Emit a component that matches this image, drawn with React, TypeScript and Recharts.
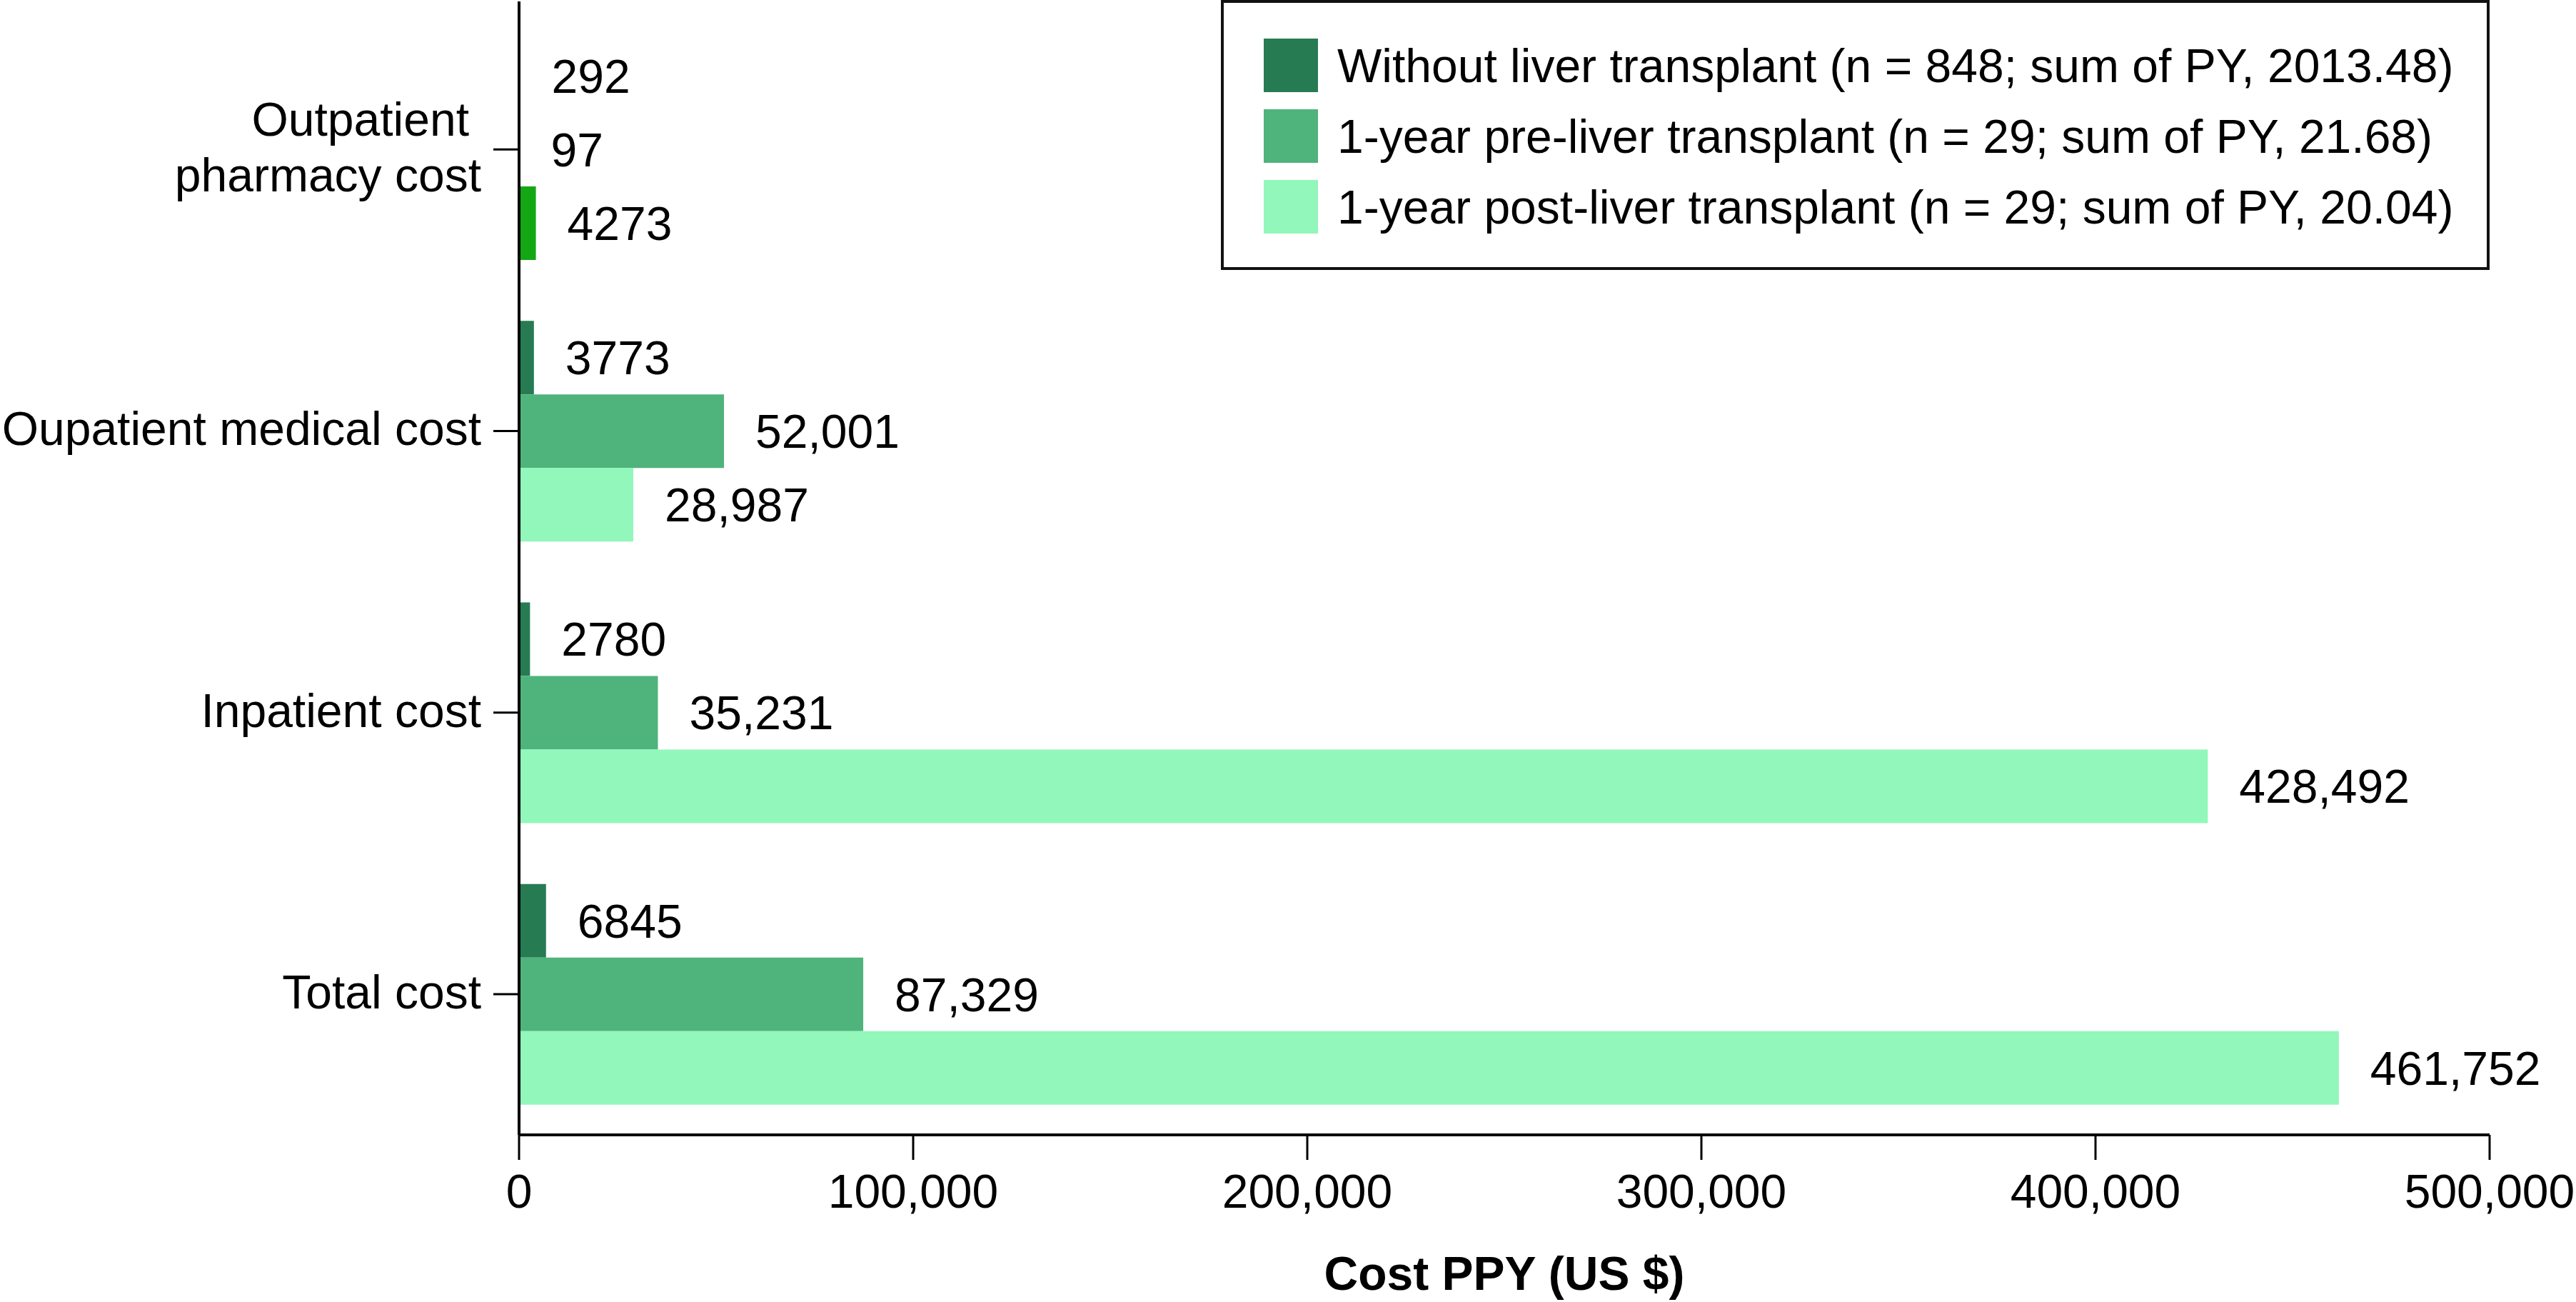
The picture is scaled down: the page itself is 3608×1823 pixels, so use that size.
import React from 'react';
import { BarChart, Bar, XAxis, YAxis, Legend, LabelList, Cell } from 'recharts';

// categories on the y axis ("\n" = line break in the tick label)
const categories = ['Outpatient\npharmacy cost', 'Oupatient medical cost', 'Inpatient cost', 'Total cost'];

// cost per patient-year, US $
const withoutTransplant = [292, 3773, 2780, 6845];
const preTransplant = [97, 52001, 35231, 87329];
const postTransplant = [4273, 28987, 428492, 461752];

const seriesNames = [
  'Without liver transplant (n = 848; sum of PY, 2013.48)',
  '1-year pre-liver transplant (n = 29; sum of PY, 21.68)',
  '1-year post-liver transplant (n = 29; sum of PY, 20.04)',
];
const seriesKeys = ['without', 'pre', 'post'];
const seriesColors = ['#277B53', '#4FB37C', '#91F7BA'];
const pharmacyPostColor = '#13A813';

const xTicks = [0, 100000, 200000, 300000, 400000, 500000];

const FONT = '"Liberation Sans", Arial, Helvetica, sans-serif';

const data = categories.map((category, i) => ({
  category,
  without: withoutTransplant[i],
  pre: preTransplant[i],
  post: postTransplant[i],
}));

const formatValue = (v: number) => (v >= 10000 ? v.toLocaleString('en-US') : String(v));

function CategoryTick(props: any) {
  const { x, y, payload } = props;
  const lines: string[] = String(payload.value).split('\n');
  const lineHeight = 78;
  const first = y + 20 - ((lines.length - 1) * lineHeight) / 2;
  return (
    <text textAnchor="end" fontSize={66} fontFamily={FONT} fill="#000">
      {lines.map((line, i) => (
        <tspan key={i} x={lines.length > 1 && i === 0 ? x - 17 : x} y={first + i * lineHeight}>
          {line}
        </tspan>
      ))}
    </text>
  );
}

const renderLegend = () => (
  <div
    style={{
      boxSizing: 'border-box',
      width: 1777,
      height: 378,
      border: '4px solid #111',
      background: '#fff',
      paddingTop: 50,
      paddingLeft: 56,
    }}
  >
    {seriesNames.map((name, i) => (
      <div key={name} style={{ display: 'flex', alignItems: 'center', height: 75, marginBottom: 24 }}>
        <span style={{ width: 76, height: 75, background: seriesColors[i], display: 'inline-block', marginRight: 27, flex: 'none' }} />
        <span style={{ fontSize: 66, fontFamily: FONT, color: '#000', lineHeight: 1, whiteSpace: 'nowrap' }}>{name}</span>
      </div>
    ))}
  </div>
);

export default function App() {
  return (
    <div style={{ position: 'absolute', left: 0, top: 0, background: '#fff' }}>
      <BarChart
        width={3608}
        height={1823}
        data={data}
        layout="vertical"
        margin={{ top: 2, right: 121, bottom: 0, left: 0 }}
        barCategoryGap={43}
        barGap={0}
      >
        <XAxis
          type="number"
          domain={[0, 500000]}
          ticks={xTicks}
          interval={0}
          tickFormatter={(v: number) => v.toLocaleString('en-US')}
          height={234}
          tickSize={35}
          tickMargin={20}
          axisLine={{ stroke: '#000', strokeWidth: 4 }}
          tickLine={{ stroke: '#000', strokeWidth: 3 }}
          tick={{ fontSize: 66, fontFamily: FONT, fill: '#000' }}
          label={{
            value: 'Cost PPY (US $)',
            position: 'insideBottom',
            offset: 17,
            style: { fontSize: 66, fontFamily: FONT, fontWeight: 'bold', fill: '#000' },
          }}
        />
        <YAxis
          type="category"
          dataKey="category"
          width={727}
          padding={{ top: 10, bottom: 0 }}
          interval={0}
          tickSize={36}
          tickMargin={17}
          axisLine={{ stroke: '#000', strokeWidth: 4 }}
          tickLine={{ stroke: '#000', strokeWidth: 3 }}
          tick={<CategoryTick />}
        />
        <Legend
          layout="vertical"
          verticalAlign="middle"
          align="center"
          content={renderLegend}
          wrapperStyle={{ left: 1710, top: 0, width: 1777, height: 378 }}
        />
        {seriesKeys.map((key, s) => (
          <Bar key={key} dataKey={key} name={seriesNames[s]} fill={seriesColors[s]} isAnimationActive={false}>
            {key === 'post' &&
              data.map((d, i) => <Cell key={i} fill={i === 0 ? pharmacyPostColor : seriesColors[s]} />)}
            <LabelList
              dataKey={key}
              position="right"
              offset={44}
              formatter={(v: any) => formatValue(Number(v))}
              style={{ fontSize: 66, fontFamily: FONT, fill: '#000' }}
            />
          </Bar>
        ))}
      </BarChart>
    </div>
  );
}
